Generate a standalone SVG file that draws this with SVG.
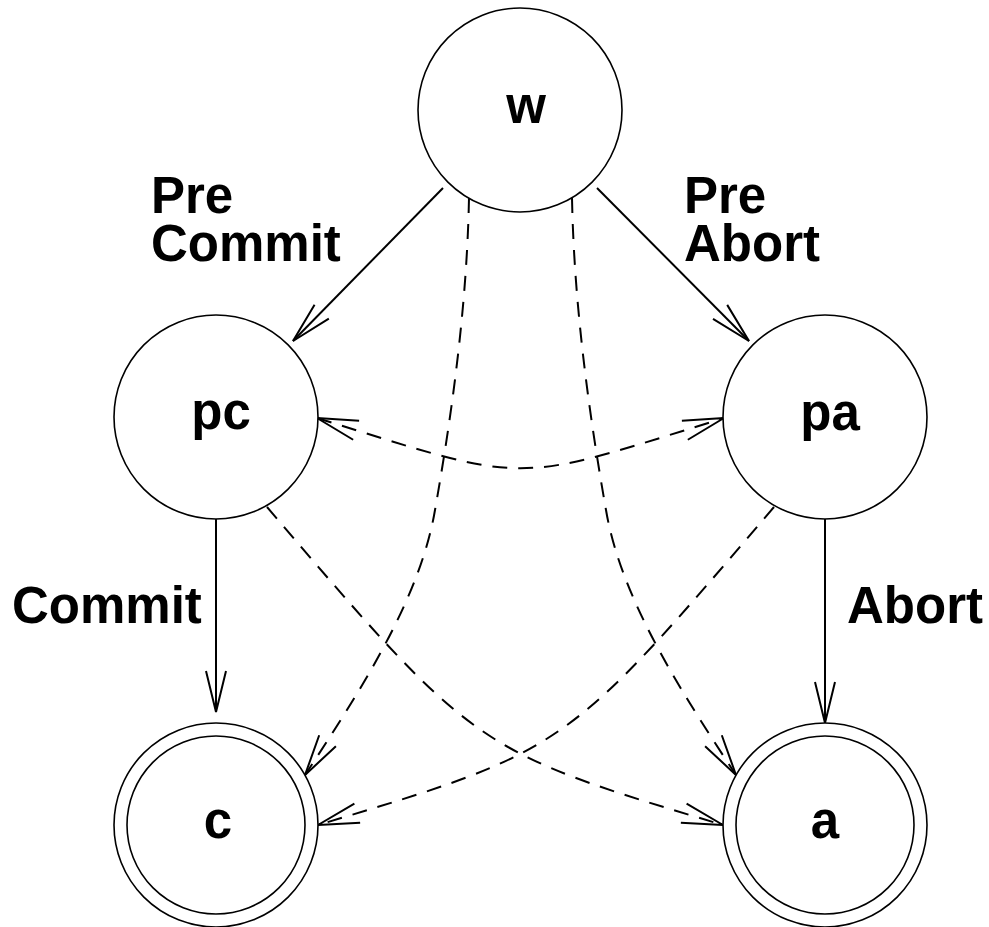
<svg xmlns="http://www.w3.org/2000/svg" width="989" height="927" viewBox="0 0 989 927">
  <style>
    .state { fill: #fff; stroke: #000; stroke-width: 1.6; }
    .name { font-family: "Liberation Sans", Arial, sans-serif; font-weight: bold; font-size: 51px; fill: #000; text-anchor: middle; }
    .label { font-family: "Liberation Sans", Arial, sans-serif; font-weight: bold; font-size: 51px; fill: #000; }
    .edge { fill: none; stroke: #000; stroke-width: 2; }
    .dashed { stroke-dasharray: 15 11; }
  </style>
  <defs>
    <marker id="open" viewBox="-44 -13 48 26" refX="0" refY="0" markerWidth="48" markerHeight="26" markerUnits="userSpaceOnUse" orient="auto-start-reverse" overflow="visible">
      <path d="M-41,-10 L0,0 L-41,10" fill="none" stroke="#000" stroke-width="2" stroke-dasharray="none"/>
    </marker>
  </defs>

  <rect width="989" height="927" fill="#fff"/>

  <!-- transitions -->
  <g id="edges">
    <!-- solid transitions -->
    <path class="edge" d="M443,188 L293,341" marker-end="url(#open)"/>
    <path class="edge" d="M597,188 L749,341" marker-end="url(#open)"/>
    <path class="edge" d="M216,519 L216,712" marker-end="url(#open)"/>
    <path class="edge" d="M825,519 L825,723" marker-end="url(#open)"/>
    <!-- dashed transitions -->
    <path class="edge dashed" d="M317,418 C532,485 509,485 724,418" marker-start="url(#open)" marker-end="url(#open)"/>
    <path class="edge dashed" d="M469,198 C467,302 453,408 435,510 C420,599 360,691.5 305,775" marker-end="url(#open)"/>
    <path class="edge dashed" d="M572,198 C574,302 588,408 606,510 C621,599 681,691.5 736,775" marker-end="url(#open)"/>
    <path class="edge dashed" d="M267,507 C475,750.5 475,750.5 723,825" marker-end="url(#open)"/>
    <path class="edge dashed" d="M774,507 C566,750.5 566,750.5 318,825" marker-end="url(#open)"/>
  </g>

  <!-- edge labels -->
  <g id="edge-labels">
    <text class="label" x="151" y="213">Pre<tspan x="151" dy="48">Commit</tspan></text>
    <text class="label" x="684" y="213">Pre<tspan x="684" dy="48">Abort</tspan></text>
    <text class="label" x="12" y="623">Commit</text>
    <text class="label" x="847" y="623">Abort</text>
  </g>

  <!-- states -->
  <g id="w">
    <circle class="state" cx="520" cy="110" r="102"/>
    <text class="name" x="526" y="123">w</text>
  </g>
  <g id="pc">
    <circle class="state" cx="216" cy="417" r="102"/>
    <text class="name" x="221" y="429">pc</text>
  </g>
  <g id="pa">
    <circle class="state" cx="825" cy="417" r="102"/>
    <text class="name" x="830" y="430">pa</text>
  </g>
  <g id="c">
    <circle class="state" cx="216" cy="825" r="102"/>
    <circle class="state" cx="216" cy="825" r="89"/>
    <text class="name" x="218" y="838">c</text>
  </g>
  <g id="a">
    <circle class="state" cx="825" cy="825" r="102"/>
    <circle class="state" cx="825" cy="825" r="89"/>
    <text class="name" x="825" y="838">a</text>
  </g>
</svg>
